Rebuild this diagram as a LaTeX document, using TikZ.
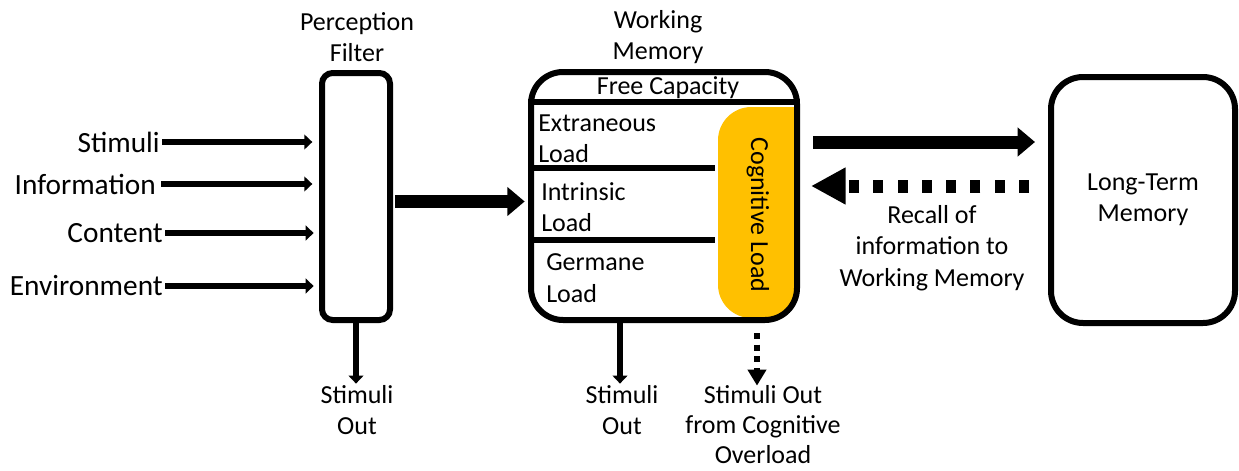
\documentclass[tikz,border=0pt]{standalone}
\usepackage{fontspec}
\setmainfont{Carlito}
\usetikzlibrary{arrows.meta}
\definecolor{gold}{HTML}{FFC000}
\tikzset{
  lbl/.style={font=\fontsize{19.5}{23.5}\selectfont, inner sep=0pt, align=center},
  leftlbl/.style={font=\fontsize{19.5}{23.5}\selectfont, inner sep=0pt, align=left, anchor=west},
  inlbl/.style={font=\fontsize{22}{26}\selectfont, inner sep=0pt, anchor=east},
  boxshape/.style={draw, line width=4.5pt, align=center, font=\fontsize{19.5}{23.5}\selectfont},
  divider/.style={line width=4.5pt},
  thinarrow/.style={line width=4.5pt, -{Triangle[length=6pt,width=11pt]}},
  downarrow/.style={line width=4.5pt, -{Triangle[length=6pt,width=11pt]}},
  thickarrow/.style={line width=9.75pt, -{Triangle[length=13pt,width=21pt]}},
  dasharrow/.style={line width=9.75pt, dash pattern=on 7.5pt off 10.7pt, -{Triangle[length=26pt,width=26pt]}},
  dotarrow/.style={line width=5pt, dash pattern=on 4.5pt off 4.3pt, -{Triangle[length=12pt,width=13.5pt]}},
}
\begin{document}
\begin{tikzpicture}[x=0.75pt,y=-0.75pt]
\useasboundingbox (0,0) rectangle (1239,471);

% cognitive load band (under the box border)
\begin{scope}
  \clip[rounded corners=24pt] (531,72) rectangle (797,320);
  \fill[gold, rounded corners=25pt] (718,107) rectangle (840,318);
\end{scope}

% boxes
\node[boxshape, rounded corners=8pt, minimum width=51pt, minimum height=185.25pt] (filter) at (356,196.5) {};
\node[boxshape, rounded corners=24pt, minimum width=199.5pt, minimum height=186pt] (wm) at (664,196) {};
\node[boxshape, rounded corners=24pt, minimum width=138pt, minimum height=184.5pt] (ltm) at (1143,200) {Long-Term\\Memory};

% dividers inside working memory
\draw[divider] ([yshift=-24.75pt]wm.north west) -- ([yshift=-24.75pt]wm.north east);
\draw[divider] ([yshift=-74.25pt]wm.north west) -- ++(140.25pt,0);
\draw[divider] ([yshift=-128.25pt]wm.north west) -- ++(140.25pt,0);

% texts
\node[lbl] (pf) at (357,37) {Perception\\Filter};
\node[lbl] (wml) at (658,37) {Working\\Memory};
\node[lbl] (free) at (668,88) {Free Capacity};
\node[leftlbl] (ext) at (538,139) {Extraneous\\Load};
\node[leftlbl] (intr) at (541,207) {Intrinsic\\Load};
\node[leftlbl] (germ) at (546,278) {Germane\\Load};
\node[lbl, rotate=-90] (cl) at (758,215) {Cognitive Load};

\node[inlbl] (stim) at (160,142) {Stimuli};
\node[inlbl] (info) at (156,184) {Information};
\node[inlbl] (cont) at (163,233) {Content};
\node[inlbl] (env) at (163,286) {Environment};

\node[lbl] (so1) at (357,410) {Stimuli\\Out};
\node[lbl] (so2) at (622,410) {Stimuli\\Out};
\node[lbl, font=\fontsize{19.5}{22.5}\selectfont] (ov) at (763,425) {Stimuli Out\\from Cognitive\\Overload};
\node[lbl] (rec) at (932,248) {Recall of\\information to\\Working Memory};

% input arrows
\draw[thinarrow, shorten <=1.5pt, shorten >=5pt] (stim.east) -- (stim.east -| filter.west);
\draw[thinarrow, shorten <=4pt, shorten >=5pt] (info.east) -- (info.east -| filter.west);
\draw[thinarrow, shorten <=1.5pt, shorten >=4pt] (cont.east) -- (cont.east -| filter.west);
\draw[thinarrow, shorten <=1.5pt, shorten >=4pt] (env.east) -- (env.east -| filter.west);

% filter -> working memory
\draw[thickarrow, shorten <=1.5pt, shorten >=2.5pt] ([yshift=-3.75pt]filter.east) -- ([yshift=-3.75pt]filter.east -| wm.west);

% working memory <-> long-term memory
\draw[thickarrow, shorten <=9.75pt, shorten >=9.75pt] ([yshift=40.5pt]wm.east) -- ([yshift=40.5pt]wm.east -| ltm.west);
\draw[dasharrow, shorten <=14.25pt, shorten >=8.25pt] ([yshift=7.5pt]wm.east -| ltm.west) -- ([yshift=7.5pt]wm.east);

% outputs
\draw[downarrow, shorten >=1pt] (filter.south) -- (filter.south |- so1.north);
\draw[downarrow, shorten >=1pt] ([xshift=-33pt]wm.south) -- ([xshift=-33pt]wm.south |- so2.north);
\draw[dotarrow, shorten <=7.5pt] ([xshift=69.75pt]wm.south) -- ([xshift=69.75pt]wm.south |- ov.north);
\end{tikzpicture}
\end{document}
